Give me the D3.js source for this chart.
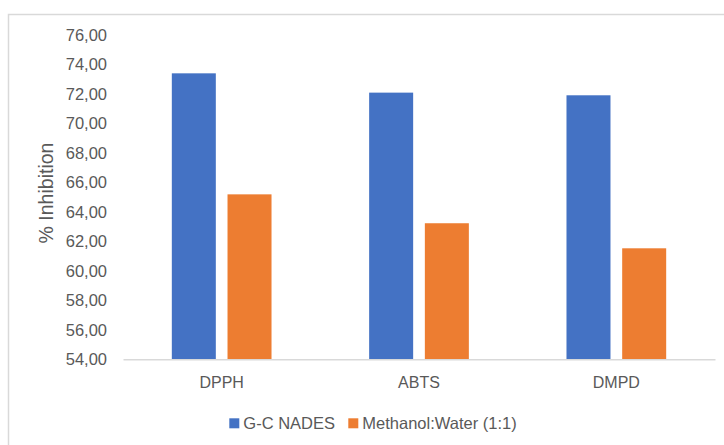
<!DOCTYPE html>
<html>
<head>
<meta charset="utf-8">
<script src="https://cdn.jsdelivr.net/npm/d3@7"></script>
<style>
  body { margin: 0; background: #fff; }
  svg text { font-family: "Liberation Sans", Arial, sans-serif; fill: #595959; }
</style>
</head>
<body>
<div id="chart"></div>
<script>
// data
const categories = ["DPPH", "ABTS", "DMPD"];
const seriesNames = ["G-C NADES", "Methanol:Water (1:1)"];
const nadesValues = [73.40, 72.09, 71.91];
const methanolValues = [65.19, 63.23, 61.53];
const yTicks = [54, 56, 58, 60, 62, 64, 66, 68, 70, 72, 74, 76];
const colors = ["#4472C4", "#ED7D31"];

const W = 724, H = 445;
const svg = d3.select("#chart").append("svg")
    .attr("width", W).attr("height", H)
    .attr("viewBox", `0 0 ${W} ${H}`);

// chart frame (runs off the right and bottom of the picture)
svg.append("rect")
    .attr("x", 8.5).attr("y", 14.5).attr("width", 730).attr("height", 440)
    .attr("fill", "none").attr("stroke", "#d9d9d9").attr("stroke-width", 1.5);

const plot = {left: 123, right: 715, top: 35, bottom: 359.3};

const x = d3.scaleBand().domain(categories).range([plot.left, plot.right]).padding(0);
const groupW = 99.7;
const xs = d3.scaleBand().domain(seriesNames).range([0, groupW]).paddingInner(0.21).paddingOuter(0);
const y = d3.scaleLinear().domain([54, 76]).range([plot.bottom, plot.top]);

const comma = d3.formatLocale({decimal: ",", thousands: ".", grouping: [3], currency: ["", ""]}).format(".2f");

// y axis labels only
const yAxis = svg.append("g")
    .attr("transform", `translate(${plot.left},0)`)
    .call(d3.axisLeft(y).tickValues(yTicks).tickFormat(comma).tickSize(0).tickPadding(16));
yAxis.select(".domain").remove();
yAxis.selectAll("text").attr("font-size", 16.5).style("font-family", null);

// bars
const rows = categories.map((c, i) => ({cat: c, vals: [nadesValues[i], methanolValues[i]]}));
const groups = svg.append("g").selectAll("g").data(rows).join("g")
    .attr("transform", d => `translate(${x(d.cat) + (x.bandwidth() - groupW) / 2},0)`);
groups.selectAll("rect")
    .data(d => d.vals.map((v, j) => ({name: seriesNames[j], v, j})))
    .join("rect")
    .attr("x", d => xs(d.name))
    .attr("width", xs.bandwidth())
    .attr("y", d => y(d.v))
    .attr("height", d => y(54) - y(d.v))
    .attr("fill", d => colors[d.j]);

// x axis
const xAxis = svg.append("g")
    .attr("transform", `translate(0,${plot.bottom})`)
    .call(d3.axisBottom(x).tickSize(0).tickSizeOuter(0).tickPadding(17));
xAxis.select(".domain").attr("stroke", "#d9d9d9").attr("stroke-width", 1.5);
xAxis.selectAll("text").attr("font-size", 16).style("font-family", null);

// y axis title
svg.append("text")
    .attr("transform", `translate(53,193) rotate(-90)`)
    .attr("text-anchor", "middle")
    .attr("font-size", 19.5)
    .text("% Inhibition");

// legend
const legendX = [229.3, 348.3];
const legend = svg.append("g").selectAll("g").data(seriesNames).join("g")
    .attr("transform", (d, i) => `translate(${legendX[i]},418.3)`);
legend.append("rect").attr("width", 10).attr("height", 10)
    .attr("fill", (d, i) => colors[i]);
legend.append("text")
    .attr("x", 14).attr("y", 5).attr("dy", "0.35em")
    .attr("font-size", 16.5)
    .text(d => d);
</script>
</body>
</html>
